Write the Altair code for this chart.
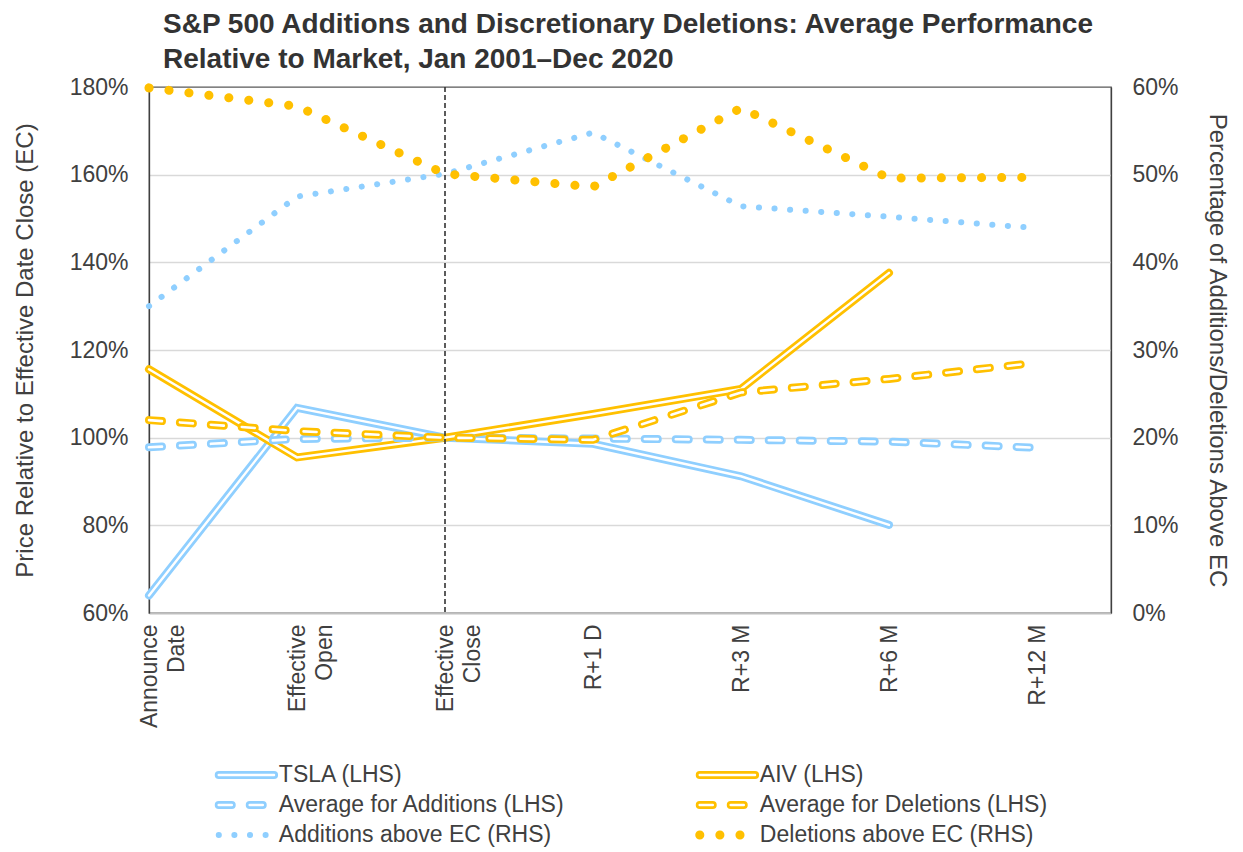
import json
import altair as alt
import pandas as pd

# ---------------- data ----------------
categories = ["Announce\nDate", "Effective\nOpen", "Effective\nClose",
              "R+1 D", "R+3 M", "R+6 M", "R+12 M"]

tsla_lhs = [64.0, 106.8, 100.0, 98.6, 91.2, 80.1, None]
aiv_lhs = [115.6, 95.5, 100.0, 105.4, 111.1, 137.6, None]
avg_additions_lhs = [97.8, 99.7, 100.0, 99.8, 99.5, 99.1, 97.7]
avg_deletions_lhs = [104.0, 101.5, 100.0, 99.5, 110.3, 113.4, 117.1]
additions_above_rhs = [35.0, 47.5, 50.1, 54.8, 46.4, 45.2, 43.9]
deletions_above_rhs = [59.9, 57.8, 50.1, 48.6, 57.6, 49.6, 49.7]

series_names = ["TSLA (LHS)", "AIV (LHS)",
                "Average for Additions (LHS)", "Average for Deletions (LHS)",
                "Additions above EC (RHS)", "Deletions above EC (RHS)"]
series_values = [tsla_lhs, aiv_lhs, avg_additions_lhs, avg_deletions_lhs,
                 additions_above_rhs, deletions_above_rhs]
lhs_series = series_names[:4]
rhs_series = series_names[4:]

left_ticks = [60, 80, 100, 120, 140, 160, 180]
right_ticks = [0, 10, 20, 30, 40, 50, 60]
event_line_category = "Effective\nClose"

title_lines = ["S&P 500 Additions and Discretionary Deletions: Average Performance",
               "Relative to Market, Jan 2001\u2013Dec 2020"]

# ---------------- styles ----------------
FONT = "Liberation Sans"
TEXT = "#404040"
BLUE = "#8FCFFF"
GOLD = "#FFC000"
STYLE = {
    "TSLA (LHS)": dict(kind="double", color=BLUE),
    "AIV (LHS)": dict(kind="double", color=GOLD),
    "Average for Additions (LHS)": dict(kind="double_dash", color=BLUE),
    "Average for Deletions (LHS)": dict(kind="double_dash", color=GOLD),
    "Additions above EC (RHS)": dict(kind="dots", color=BLUE, width=6, gap=15.5),
    "Deletions above EC (RHS)": dict(kind="dots", color=GOLD, width=9, gap=20),
}

rows = []
for name, vals in zip(series_names, series_values):
    for i, v in enumerate(vals):
        if v is not None:
            rows.append({"series": name, "x": i, "value": v})
df = pd.DataFrame(rows)
rule_df = pd.DataFrame({"x": [categories.index(event_line_category)]})


def style_layers(src, name, x_enc, y_enc):
    st = STYLE[name]
    base = alt.Chart(src).transform_filter(alt.datum.series == name)
    c = st["color"]
    if st["kind"] == "double":
        return [
            base.mark_line(color=c, strokeWidth=8, strokeCap="round",
                           strokeJoin="miter").encode(x=x_enc, y=y_enc),
            base.mark_line(color="white", strokeWidth=2.4, strokeCap="round",
                           strokeJoin="miter").encode(x=x_enc, y=y_enc),
        ]
    if st["kind"] == "double_dash":
        return [
            base.mark_line(color=c, strokeWidth=8, strokeCap="round",
                           strokeDash=[13, 18]).encode(x=x_enc, y=y_enc),
            base.mark_line(color="white", strokeWidth=2.6, strokeCap="round",
                           strokeDash=[13, 18]).encode(x=x_enc, y=y_enc),
        ]
    return [
        base.mark_line(color=c, strokeWidth=st["width"], strokeCap="round",
                       strokeDash=[0.1, st["gap"]]).encode(x=x_enc, y=y_enc)
    ]


# ---------------- main chart ----------------
label_expr = "split(" + json.dumps(categories) + "[round(datum.value)], '\\n')"

x_enc = alt.X(
    "x:Q",
    scale=alt.Scale(domain=[0, 6.5], nice=False, zero=False),
    axis=alt.Axis(values=list(range(len(categories))), labelExpr=label_expr,
                  labelAngle=-90, labelAlign="right", labelBaseline="middle",
                  labelLineHeight=27, labelPadding=11, labelFlush=False,
                  labelOverlap=False, ticks=False, grid=False,
                  domainColor="#BFBFBF", domainWidth=2, labelFontSize=23,
                  title=None),
)

y_left = alt.Y(
    "value:Q",
    scale=alt.Scale(domain=[left_ticks[0], left_ticks[-1]], nice=False, zero=False),
    axis=alt.Axis(values=left_ticks, labelExpr="datum.value + '%'",
                  title="Price Relative to Effective Date Close (EC)",
                  titleFontSize=24, titlePadding=32, labelFontSize=23,
                  labelPadding=21, ticks=False, domainColor="#404040",
                  domainWidth=1.3, grid=True, gridColor="#D9D9D9", gridWidth=1.3,
                  gridOpacity={"condition": {"test": "datum.value <= 60 || datum.value >= 180",
                                             "value": 0}, "value": 1}),
)

y_right = alt.Y(
    "value:Q",
    scale=alt.Scale(domain=[right_ticks[0], right_ticks[-1]], nice=False, zero=False),
    axis=alt.Axis(orient="right", values=right_ticks, labelExpr="datum.value + '%'",
                  title="Percentage of Additions/Deletions Above EC",
                  titleFontSize=24, titlePadding=26, labelFontSize=23,
                  labelPadding=21, ticks=False, domainColor="#404040",
                  domainWidth=1.3, grid=False),
)

left_layers = []
for name in lhs_series:
    left_layers += style_layers(df, name, x_enc, y_left)
rule = alt.Chart(rule_df).mark_rule(color="#333333", strokeDash=[5, 3],
                                    strokeWidth=1.6).encode(x=x_enc)
left_layers.append(rule)

right_layers = []
for name in rhs_series:
    right_layers += style_layers(df, name, x_enc, y_right)

main = alt.layer(alt.layer(*left_layers), alt.layer(*right_layers)).resolve_scale(
    y="independent"
).properties(
    width=962, height=526,
    title=alt.TitleParams(text=title_lines, anchor="start", frame="group",
                          fontSize=28, font=FONT, fontWeight="bold",
                          color="#333333", dx=14, offset=-4, lineHeight=35),
)

# ---------------- legend (built from the same styles) ----------------
SW_START, SW_END, TXT_START = 0.145, 0.26, 0.27
leg_rows = []
leg_text = []
for i, name in enumerate(series_names):
    col, row = i % 2, i // 2
    leg_rows.append({"series": name, "row": row, "lx": col + SW_START})
    leg_rows.append({"series": name, "row": row, "lx": col + SW_END})
    leg_text.append({"series": name, "row": row, "lx": col + TXT_START})
leg_df = pd.DataFrame(leg_rows)
leg_text_df = pd.DataFrame(leg_text)

lx_enc = alt.X("lx:Q", scale=alt.Scale(domain=[0, 2], nice=False, zero=False), axis=None)
ly_enc = alt.Y("row:Q", scale=alt.Scale(domain=[0, 2], reverse=True, nice=False,
                                        zero=False), axis=None)
leg_layers = []
for name in series_names:
    leg_layers += style_layers(leg_df, name, lx_enc, ly_enc)
leg_layers.append(
    alt.Chart(leg_text_df).mark_text(align="left", baseline="middle", fontSize=23,
                                     font=FONT, color=TEXT)
    .encode(x=lx_enc, y=ly_enc, text="series:N")
)
legend = alt.layer(*leg_layers).properties(
    width=962, height=60, view=alt.ViewBackground(stroke="transparent")
)

chart = alt.vconcat(main, legend, spacing=29).properties(
    padding={"left": 4, "top": 2, "right": 2, "bottom": 0}
).configure_view(
    stroke="#595959", strokeWidth=1.3
).configure_axis(
    labelFont=FONT, titleFont=FONT, labelColor=TEXT, titleColor=TEXT,
    titleFontWeight="normal"
)

chart.save("out.html", embed_options={"renderer": "svg", "actions": False})
